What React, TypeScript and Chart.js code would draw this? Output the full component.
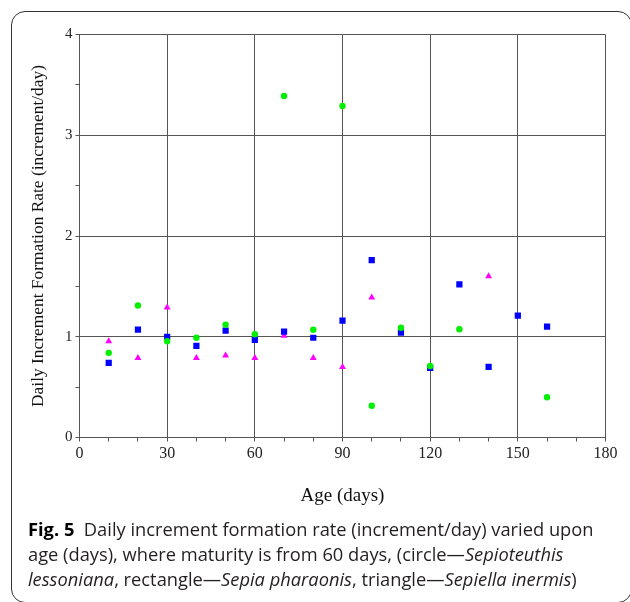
import React, { useEffect, useRef } from "react";
import { Chart, registerables } from "chart.js";

Chart.register(...registerables);

// Age (days)
const ages = [10, 20, 30, 40, 50, 60, 70, 80, 90, 100, 110, 120, 130, 140, 150, 160];
// circle — Sepioteuthis lessoniana
const sepioteuthis: (number | null)[] = [0.84, 1.31, 0.955, 0.99, 1.12, 1.025, 3.39, 1.07, 3.29, 0.315, 1.09, 0.71, 1.075, null, null, 0.4];
// rectangle — Sepia pharaonis
const sepia: (number | null)[] = [0.74, 1.07, 1.0, 0.91, 1.06, 0.97, 1.05, 0.99, 1.16, 1.76, 1.04, 0.69, 1.52, 0.7, 1.21, 1.1];
// triangle — Sepiella inermis
const sepiella: (number | null)[] = [0.955, 0.79, 1.29, 0.79, 0.815, 0.79, 1.01, 0.79, 0.7, 1.39, null, null, null, 1.6, null, null];

const xTickLabels = ["0", "30", "60", "90", "120", "150", "180"];
const yTickLabels = ["0", "1", "2", "3", "4"];

const toPoints = (vals: (number | null)[]) =>
  ages.map((a, i) => ({ x: a, y: vals[i] })).filter((p) => p.y !== null) as { x: number; y: number }[];

const SERIF = '"Liberation Serif", "Times New Roman", serif';
const GRID = "#555555";

export default function App() {
  const ref = useRef<HTMLCanvasElement | null>(null);

  useEffect(() => {
    if (!ref.current) return;
    const chart = new Chart(ref.current, {
      type: "scatter",
      data: {
        datasets: [
          {
            label: "Sepioteuthis lessoniana",
            data: toPoints(sepioteuthis),
            pointStyle: "circle",
            pointRadius: 3.2,
            backgroundColor: "#00f000",
            borderWidth: 0,
          },
          {
            label: "Sepia pharaonis",
            data: toPoints(sepia),
            pointStyle: "rect",
            pointRadius: 4.4,
            backgroundColor: "#0000ff",
            borderWidth: 0,
          },
          {
            label: "Sepiella inermis",
            data: toPoints(sepiella),
            pointStyle: "triangle",
            pointRadius: 4,
            backgroundColor: "#ff00ff",
            borderWidth: 0,
          },
        ],
      },
      options: {
        animation: false,
        responsive: false,
        maintainAspectRatio: false,
        layout: { padding: { left: 0, top: 34.5, right: 24.5, bottom: 0 } },
        plugins: { legend: { display: false }, tooltip: { enabled: false } },
        scales: {
          x: {
            type: "linear",
            min: 0,
            max: 180,
            afterFit: (s: any) => {
              s.height = 82.5;
              s.paddingLeft = 0;
              s.paddingRight = 0;
            },
            ticks: {
              stepSize: 10,
              autoSkip: false,
              maxRotation: 0,
              padding: 3,
              color: "#222",
              font: { family: SERIF, size: 16 },
              callback: (v: any) => {
                const s = String(v);
                return xTickLabels.includes(s) ? s : "";
              },
            },
            grid: {
              color: (c: any) => (c.tick && c.tick.value % 30 === 0 ? GRID : "rgba(0,0,0,0)"),
              tickColor: GRID,
              tickLength: 4,
              lineWidth: 1,
            },
            border: { color: GRID, width: 1 },
            title: {
              display: true,
              text: "Age (days)",
              color: "#111",
              font: { family: SERIF, size: 19 },
              padding: { top: 0, bottom: 12.5 },
            },
          },
          y: {
            type: "linear",
            min: 0,
            max: 4,
            afterFit: (s: any) => {
              s.width = 79.5;
              s.paddingTop = 0;
              s.paddingBottom = 0;
            },
            ticks: {
              stepSize: 0.5,
              autoSkip: false,
              padding: 3,
              color: "#222",
              font: { family: SERIF, size: 15 },
              callback: (v: any) => {
                const s = String(v);
                return yTickLabels.includes(s) ? s : "";
              },
            },
            grid: {
              color: (c: any) => (c.tick && Number.isInteger(c.tick.value) ? GRID : "rgba(0,0,0,0)"),
              tickColor: GRID,
              tickLength: 4,
              lineWidth: 1,
            },
            border: { color: GRID, width: 1 },
            title: {
              display: true,
              text: "Daily Increment Formation Rate (increment/day)",
              color: "#111",
              font: { family: SERIF, size: 17.4 },
              padding: { top: 27.5, bottom: 0 },
            },
          },
        },
      },
    } as any);
    return () => chart.destroy();
  }, []);

  const cap: React.CSSProperties = {
    position: "absolute",
    left: 28,
    top: 515.5,
    fontFamily: '"Open Sans", "Noto Sans", sans-serif',
    fontSize: 18.3,
    lineHeight: "25px",
    color: "#231f20",
    whiteSpace: "nowrap",
  };

  return (
    <div style={{ position: "absolute", left: 0, top: 0, width: 630, height: 602, overflow: "hidden", background: "#fff" }}>
      <div
        style={{
          position: "absolute",
          left: 11,
          top: 11,
          width: 621,
          height: 592,
          border: "1.5px solid #333",
          borderRadius: 14,
          boxSizing: "border-box",
        }}
      />
      <canvas ref={ref} width={630} height={520} style={{ position: "absolute", left: 0, top: 0, width: 630, height: 520 }} />
      <div style={cap}>
        <div>
          <b style={{ color: "#000" }}>Fig. 5</b>
          {"\u00a0\u00a0"}Daily increment formation rate (increment/day) varied upon
        </div>
        <div>
          age (days), where maturity is from 60 days, (circle—<i>Sepioteuthis</i>
        </div>
        <div>
          <i>lessoniana</i>, rectangle—<i>Sepia pharaonis</i>, triangle—<i>Sepiella inermis</i>)
        </div>
      </div>
    </div>
  );
}
